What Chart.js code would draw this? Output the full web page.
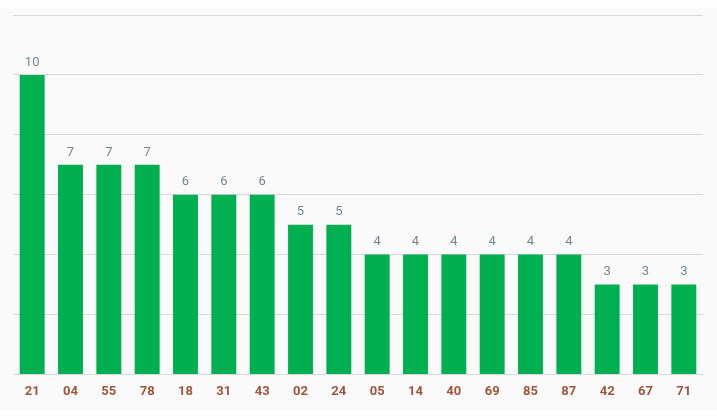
<!DOCTYPE html>
<html>
<head>
<meta charset="utf-8">
<script src="https://cdn.jsdelivr.net/npm/chart.js@4"></script>
<style>
  html, body { margin: 0; padding: 0; background: #ffffff; }
  .chart__display {
    position: absolute; left: 0; top: 7px;
    width: 717px; height: 403px;
    background: #fafafa;
  }
</style>
</head>
<body>
<div class="chart__display"><canvas id="barChart"></canvas></div>
<script>
const labels = ["21", "04", "55", "78", "18", "31", "43", "02", "24", "05", "14", "40", "69", "85", "87", "42", "67", "71"];
const counts = [10, 7, 7, 7, 6, 6, 6, 5, 5, 4, 4, 4, 4, 4, 4, 3, 3, 3];

// draw the number on top of each bar
const valueLabels = {
    id: "valueLabels",
    afterDatasetsDraw(chart) {
        const ctx = chart.ctx;
        const meta = chart.getDatasetMeta(0);
        ctx.save();
        ctx.font = "13px Roboto";
        ctx.fillStyle = "#6f8796";
        ctx.textAlign = "center";
        ctx.textBaseline = "bottom";
        meta.data.forEach((bar, i) => {
            ctx.fillText(counts[i], bar.x, bar.y - 6);
        });
        ctx.restore();
    }
};

const config = {
    type: "bar",
    data: {
        labels: labels,
        datasets: [{
            data: counts,
            backgroundColor: "#00b050",
            barPercentage: 0.65,
            categoryPercentage: 1
        }]
    },
    options: {
        responsive: true,
        maintainAspectRatio: false,
        animation: false,
        layout: { padding: { left: 13, right: 14, top: 8, bottom: 0 } },
        plugins: { legend: { display: false }, tooltip: { enabled: false } },
        scales: {
            x: {
                grid: { display: false, drawTicks: false },
                border: { display: false },
                ticks: {
                    padding: 10,
                    color: "#a0563b",
                    font: { family: "Roboto", size: 13, weight: "bold" }
                }
            },
            y: {
                min: 0,
                max: 12,
                ticks: { display: false, stepSize: 2 },
                grid: { color: "#d9d9d9", drawTicks: false },
                border: { display: false }
            }
        }
    },
    plugins: [valueLabels]
};

new Chart(document.getElementById("barChart"), config);
</script>
</body>
</html>
